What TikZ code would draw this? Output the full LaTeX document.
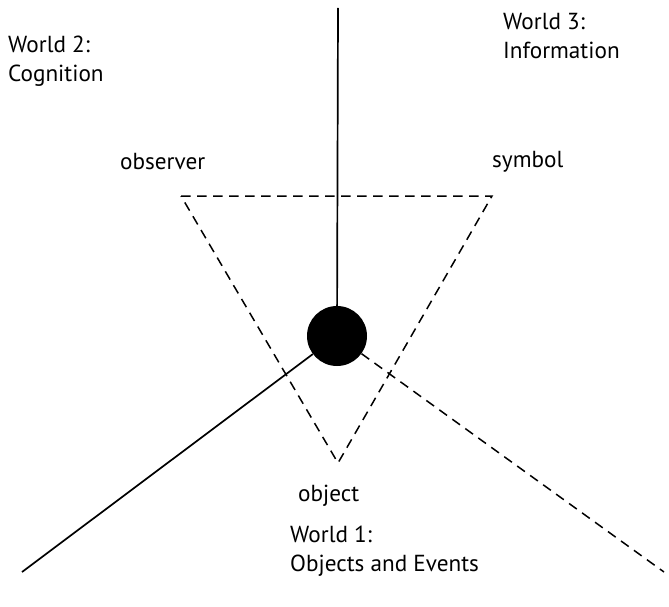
\documentclass[tikz,border=0pt]{standalone}
\usepackage{fontspec}
\setmainfont{PT Sans}
\begin{document}
\begin{tikzpicture}[x=1pt,y=-1pt,
  lbl/.style={anchor=north west, inner sep=0pt, align=left, font=\fontsize{23.2}{29}\selectfont},
  solidln/.style={line width=1.7pt},
  dashln/.style={line width=1.5pt, dash pattern=on 9.5pt off 6.5pt},
  hubstyle/.style={circle, fill=black, minimum size=60pt, inner sep=0pt}]
\useasboundingbox (0,0) rectangle (669,607);
\node[hubstyle] (hub) at (337,336) {};
\coordinate (top) at (338,8);
\coordinate (obs) at (181,196);
\coordinate (sym) at (492,196);
\coordinate (obj) at (338,463);
\coordinate (sw) at (22,572);
\coordinate (se) at (664,572);
\draw[solidln] (top) -- (hub);
\draw[solidln] (hub) -- (sw);
\draw[dashln] (hub) -- (se);
\draw[dashln] (obs) -- (sym) -- (obj) -- cycle;
\node[lbl] (w2) at (8,36) {World 2:\\Cognition};
\node[lbl] (w3) at (503,13) {World 3:\\Information};
\node[lbl] (lobs) at (120,153) {observer};
\node[lbl] (lsym) at (492,151) {symbol};
\node[lbl] (lobj) at (298,485) {object};
\node[lbl] (w1) at (290,526) {World 1:\\Objects and Events};
\end{tikzpicture}
\end{document}
